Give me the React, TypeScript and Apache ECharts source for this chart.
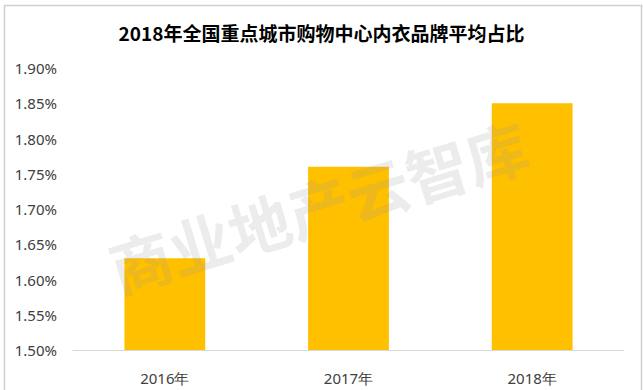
import React, { useEffect, useRef } from "react";
import * as echarts from "echarts";

const categories = ["2016年", "2017年", "2018年"];
const shareValues = [1.63, 1.76, 1.85];
const yMin = 1.5;
const yMax = 1.9;
const yStep = 0.05;
const titleText = "2018年全国重点城市购物中心内衣品牌平均占比";
const watermarkText = "商业地产云智库";

export default function App() {
  const ref = useRef<HTMLDivElement>(null);
  useEffect(() => {
    document.body.style.margin = "0";
    if (!ref.current) return;
    const chart = echarts.init(ref.current, undefined, { renderer: "svg" });
    chart.setOption({
      animation: false,
      backgroundColor: "#ffffff",
      title: {
        text: titleText,
        left: "center",
        top: 18,
        textStyle: {
          fontFamily: "Noto Sans CJK SC",
          fontSize: 19,
          fontWeight: "bold",
          color: "#000000",
        },
      },
      grid: { left: 73, right: 19, top: 68, bottom: 40 },
      xAxis: {
        type: "category",
        data: categories,
        axisLine: { lineStyle: { color: "#d9d9d9", width: 1 } },
        axisTick: { show: false },
        axisLabel: {
          margin: 20,
          fontFamily: "Noto Sans",
          fontSize: 15,
          color: "#404040",
        },
      },
      yAxis: {
        type: "value",
        min: yMin,
        max: yMax,
        interval: yStep,
        axisLine: { show: false },
        axisTick: { show: false },
        splitLine: { show: false },
        axisLabel: {
          margin: 16,
          fontFamily: "Noto Sans",
          fontSize: 15,
          color: "#404040",
          formatter: (v: number) => v.toFixed(2) + "%",
        },
      },
      series: [
        {
          type: "bar",
          data: shareValues,
          barWidth: "44%",
          itemStyle: { color: "#FFC000" },
        },
      ],
      graphic: [
        {
          type: "rect",
          left: 2,
          top: 3,
          shape: { width: 637, height: 390 },
          style: { fill: "none", stroke: "#d0d0d0", lineWidth: 1.5 },
          silent: true,
          z: 0,
        },
        {
          type: "text",
          x: 318,
          y: 205,
          rotation: (17 * Math.PI) / 180,
          style: {
            text: watermarkText,
            fontFamily: "Noto Sans CJK SC",
            fontSize: 62,
            fontWeight: "bold",
            fill: "rgba(150,150,150,0.18)",
            textAlign: "center",
            textVerticalAlign: "middle",
          },
          silent: true,
          z: 100,
        },
      ],
    });
    return () => chart.dispose();
  }, []);
  return <div ref={ref} style={{ width: 643, height: 390 }} />;
}
